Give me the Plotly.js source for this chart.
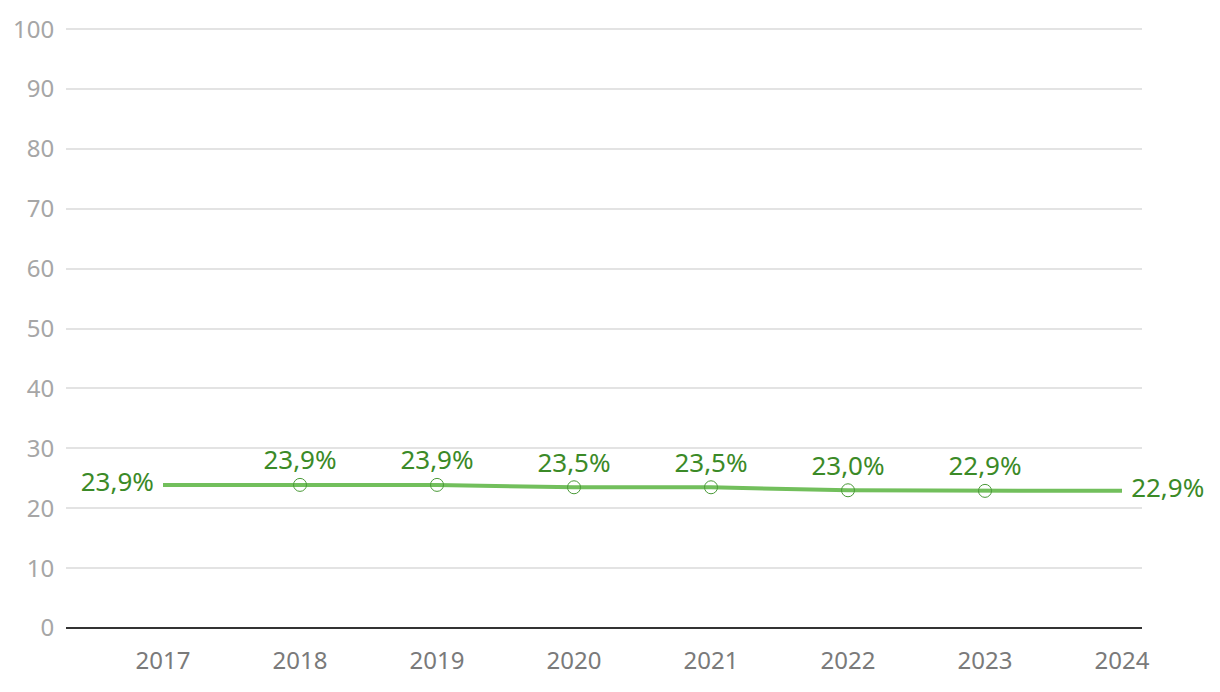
<!DOCTYPE html>
<html>
<head>
<meta charset="utf-8">
<script src="https://cdn.plot.ly/plotly-3.0.1.min.js"></script>
<style>html,body{margin:0;padding:0;background:#fff;}#chart{width:1220px;height:692px;}</style>
</head>
<body>
<div id="chart"></div>
<script>
const years = ['2017','2018','2019','2020','2021','2022','2023','2024'];
const values = [23.9, 23.9, 23.9, 23.5, 23.5, 23.0, 22.9, 22.9];
const labels = ['23,9%','23,9%','23,9%','23,5%','23,5%','23,0%','22,9%','22,9%'];
const yTicks = [0,10,20,30,40,50,60,70,80,90,100];

const last = years.length - 1;
const labelPos = years.map((y,i) => i === 0 ? 'middle left' : (i === last ? 'middle right' : 'top center'));
const markerLineColors = years.map((y,i) => (i === 0 || i === last) ? 'rgba(0,0,0,0)' : '#4a9a38');

const trace = {
  x: years, y: values, type: 'scatter', mode: 'lines+markers+text',
  text: labels, textposition: labelPos,
  textfont: {family: 'Noto Sans, sans-serif', size: 26, color: '#3b8a27'},
  line: {color: '#72bf5c', width: 4},
  marker: {size: 13, color: 'rgba(0,0,0,0)', line: {color: markerLineColors, width: 1}},
  cliponaxis: false, hoverinfo: 'skip'
};

const layout = {
  width: 1220, height: 692,
  margin: {l: 66, r: 78, t: 28, b: 64},
  paper_bgcolor: '#fff', plot_bgcolor: '#fff',
  showlegend: false,
  font: {family: 'Noto Sans, sans-serif'},
  xaxis: {
    type: 'category', range: [-0.708, 7.146], showgrid: false, zeroline: false,
    showline: false, ticks: 'outside', ticklen: 11, tickcolor: 'rgba(0,0,0,0)',
    tickfont: {size: 24, color: '#7a7a7a'}, fixedrange: true
  },
  yaxis: {
    range: [0, 100.2], tickvals: yTicks, showgrid: true, gridcolor: '#e3e3e3', gridwidth: 2,
    zeroline: true, zerolinecolor: '#333333', zerolinewidth: 2, showline: false,
    ticks: 'outside', ticklen: 6, tickcolor: 'rgba(0,0,0,0)',
    tickfont: {size: 24, color: '#a6a6a6'}, fixedrange: true
  }
};

Plotly.newPlot('chart', [trace], layout, {displayModeBar: false, staticPlot: true});
</script>
</body>
</html>
